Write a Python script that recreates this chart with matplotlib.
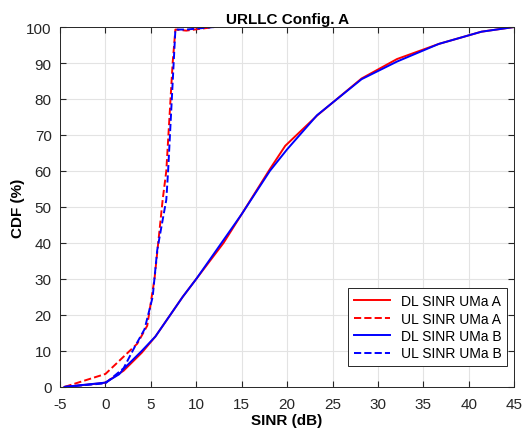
import matplotlib.pyplot as plt

plt.rcParams['font.family'] = ['Liberation Sans', 'DejaVu Sans']
plt.rcParams['axes.unicode_minus'] = False

# DL SINR, UMa A / B
dl_a_x = [-4.5, -0.5, 0, 2, 4, 5.5, 8.5, 10, 13, 15, 18.1, 19.8, 23.3, 28.2, 32.1, 36.7, 41.4, 45]
dl_a_y = [0, 1, 1.2, 4.5, 9.5, 14, 25, 30, 40, 48, 60.5, 67, 75.4, 85.7, 91.1, 95.3, 98.7, 100]
dl_b_x = [-4.5, 0, 1.5, 2, 4, 5.5, 8.5, 10, 15, 18.1, 20, 23.3, 28.2, 32.1, 36.7, 41.4, 45]
dl_b_y = [0, 1.2, 3.5, 5, 10, 14, 25, 30, 48, 60, 66, 75.5, 85.5, 90.4, 95.3, 98.7, 100]

# UL SINR, UMa A / B
ul_a_x = [-4.5, 0, 2, 3.5, 4.6, 5.4, 6.3, 6.7, 7.4, 7.7, 8.9, 12]
ul_a_y = [0, 3.6, 8.4, 12, 17, 30, 52, 60, 90, 99.3, 99, 100]
ul_b_x = [-4.5, 0, 2, 3.2, 4.3, 5.2, 5.7, 6.7, 6.9, 7.7, 8.9, 12]
ul_b_y = [0, 1, 5.2, 11, 16, 25, 38, 52, 60, 99.3, 99.3, 100]

fig = plt.figure(figsize=(5.22, 4.31), dpi=100)
ax = fig.add_axes([0.115, 0.1, 0.87, 0.835])

ax.plot(dl_a_x, dl_a_y, color='red', lw=1.4, label='DL SINR UMa A')
ax.plot(ul_a_x, ul_a_y, color='red', lw=1.4, ls='--', label='UL SINR UMa A')
ax.plot(dl_b_x, dl_b_y, color='blue', lw=1.4, label='DL SINR UMa B')
ax.plot(ul_b_x, ul_b_y, color='blue', lw=1.4, ls='--', label='UL SINR UMa B')

ax.set_xlim(-5, 45)
ax.set_ylim(0, 100)
ax.set_xticks(range(-5, 46, 5))
ax.set_yticks(range(0, 101, 10))
ax.grid(True, color='#e3e3e3', lw=0.8)
ax.set_axisbelow(True)
ax.tick_params(direction='in', top=True, right=True, labelsize=11,
               colors='#262626', length=4)
ax.tick_params(axis='x', pad=7)
ax.tick_params(axis='y', pad=6)
for s in ax.spines.values():
    s.set_color('#262626')
    s.set_linewidth(0.7)

ax.set_xlabel('SINR (dB)', fontsize=11, fontweight='bold', labelpad=2)
ax.set_ylabel('CDF (%)', fontsize=11, fontweight='bold', labelpad=1)
ax.set_title('URLLC Config. A', fontsize=11, fontweight='bold', pad=3)

leg = ax.legend(loc='lower right', bbox_to_anchor=(0.985, 0.058), fontsize=10,
                fancybox=False, edgecolor='#262626', framealpha=1,
                borderaxespad=0, handlelength=2.6, labelspacing=0.25,
                borderpad=0.4)
leg.get_frame().set_linewidth(0.7)

fig.savefig('out.png', dpi=100)
